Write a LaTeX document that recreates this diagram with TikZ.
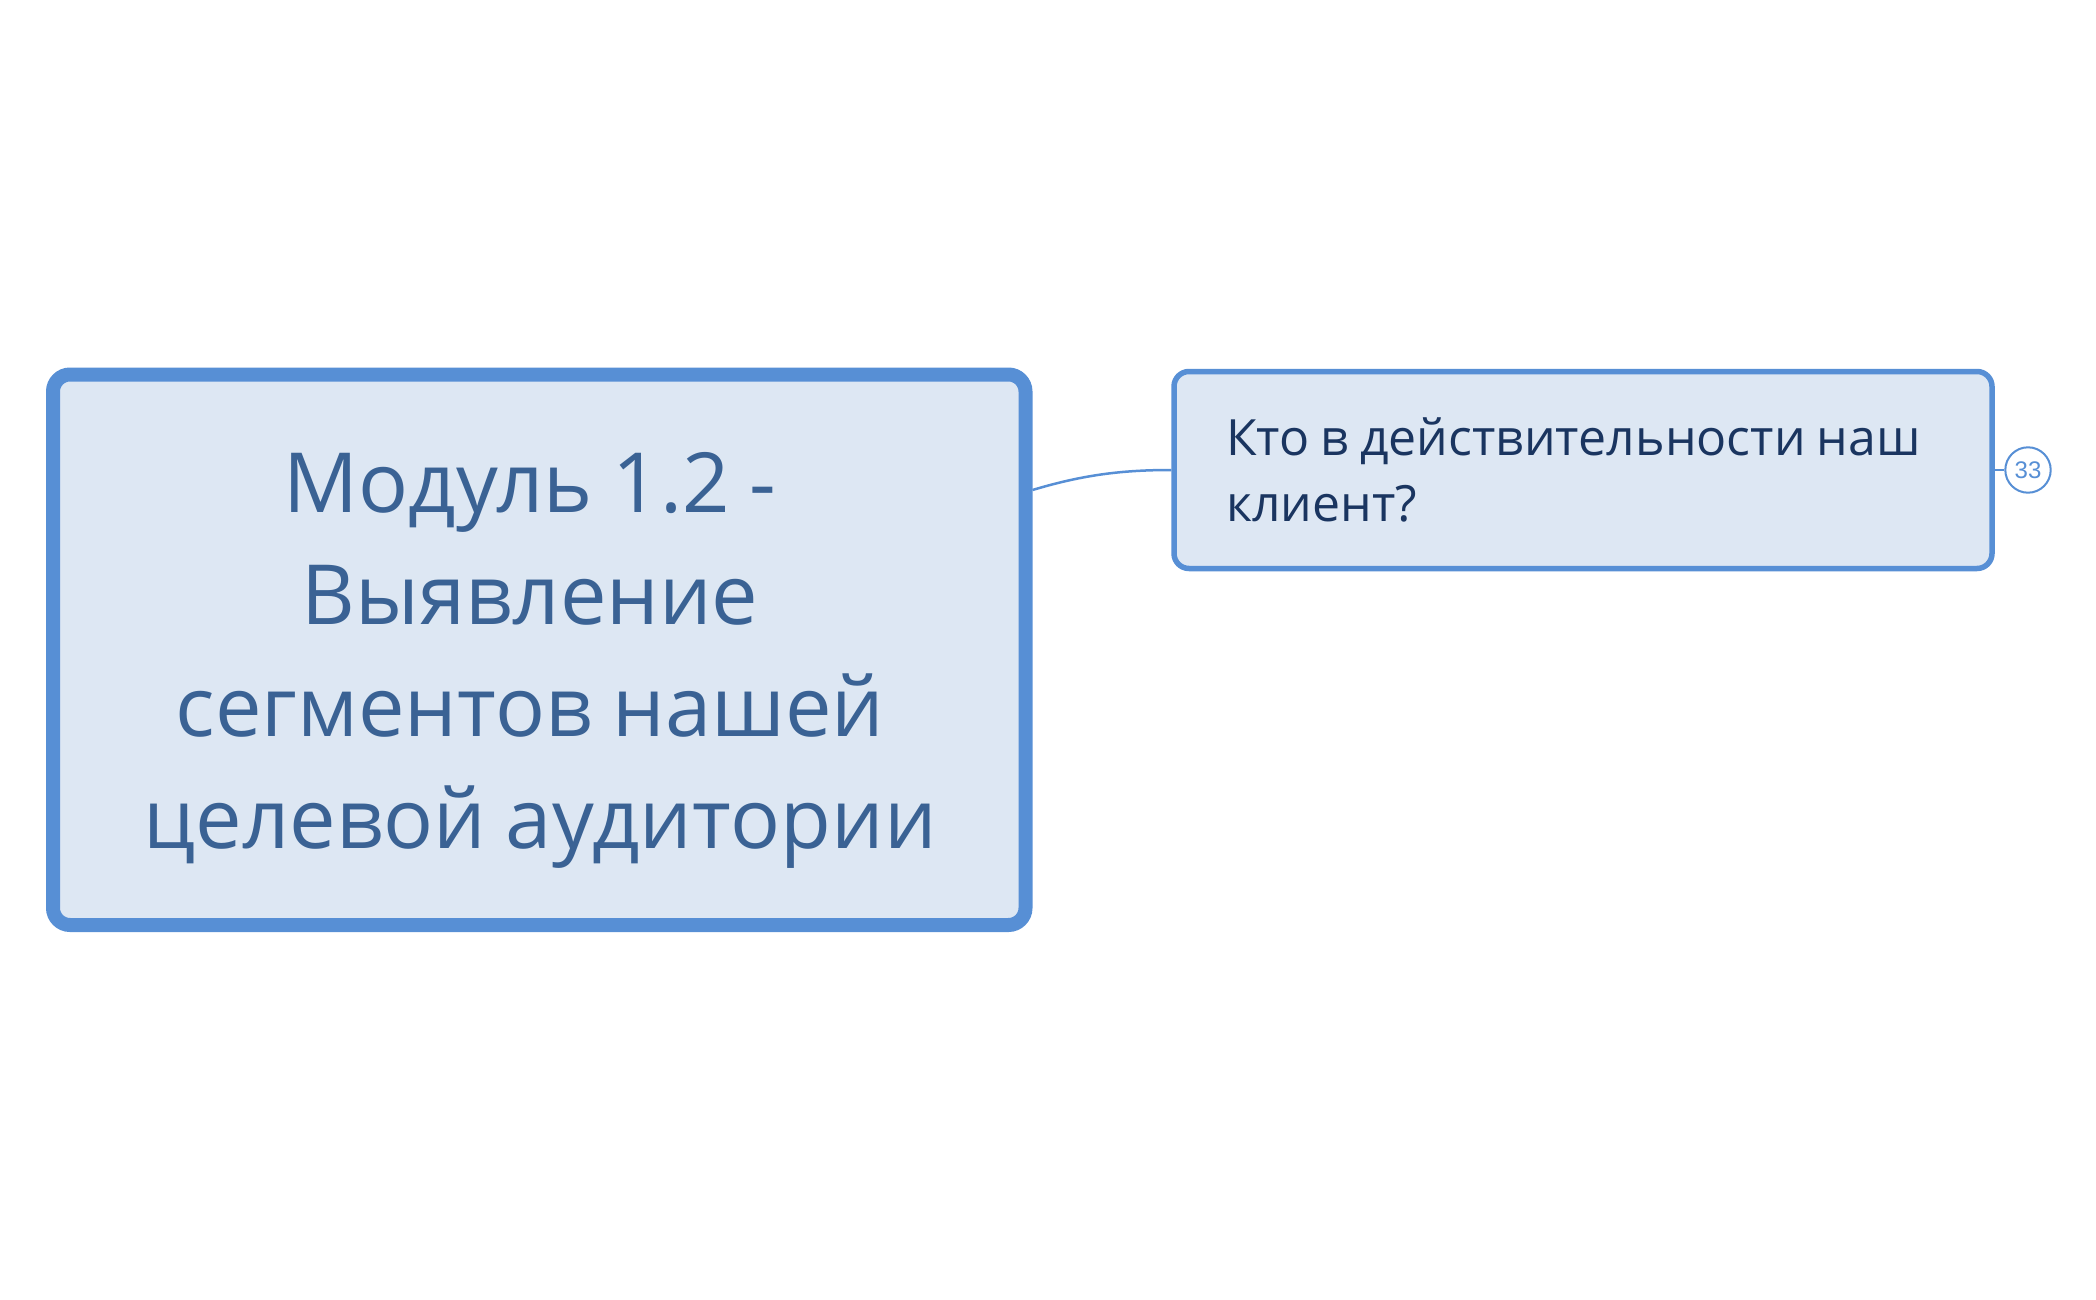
\documentclass[tikz,border=0pt]{standalone}
\usepackage{fontspec}
\setmainfont{Open Sans}
\newfontfamily\cntfont{Liberation Sans}
\newcommand\trsp{\kern20pt}
\definecolor{bordblue}{RGB}{87,143,213}
\definecolor{boxfill}{RGB}{221,231,243}
\definecolor{maintxt}{RGB}{58,98,148}
\definecolor{subtxt}{RGB}{26,53,96}
\tikzset{
  mainbox/.style={draw=bordblue, fill=boxfill, line width=14pt, rounded corners=17pt,
    minimum width=972.5pt, minimum height=550.5pt, inner sep=0pt},
  subbox/.style={draw=bordblue, fill=boxfill, line width=5.5pt, rounded corners=15pt,
    minimum width=818pt, minimum height=197pt, inner sep=0pt},
  maintext/.style={text=maintxt, inner sep=0pt, align=center, text width=950pt,
    font=\fontsize{83pt}{112pt}\selectfont, execute at begin node={\spaceskip=20pt\relax}},
  subtext/.style={text=subtxt, inner sep=0pt, align=left, text width=760pt,
    font=\fontsize{50pt}{66pt}\selectfont, execute at begin node={\spaceskip=11pt\relax}},
  countcirc/.style={circle, draw=bordblue, fill=white, line width=2pt, minimum size=45.4pt,
    inner sep=0pt, text=bordblue, font=\cntfont\fontsize{24pt}{24pt}\selectfont},
  link/.style={draw=bordblue, line width=2.5pt},
}
\begin{document}
\begin{tikzpicture}[x=1pt,y=-1pt]
\useasboundingbox (0,0) rectangle (2096,1300);
\node[mainbox] (main) at (539.25,649.75) {};
\node[maintext, anchor=base] (mtext) at (540,512) {Модуль 1.2 -\trsp\\Выявление\trsp\\сегментов нашей\trsp\\целевой аудитории};
\node[subbox] (sub) at (1583,470) {};
\node[subtext, anchor=base west] (stext) at (1226,455) {Кто в действительности наш\\клиент?};
\node[countcirc] (cnt) at (2028,470) {33};
\coordinate (mstart) at ([yshift=159.75pt]main.east);
\draw[link] (mstart) .. controls +(50pt,15pt) and +(-50pt,0pt) .. (sub.west);
\draw[link, line width=2pt] (sub.east) -- (cnt.west);
\end{tikzpicture}
\end{document}
